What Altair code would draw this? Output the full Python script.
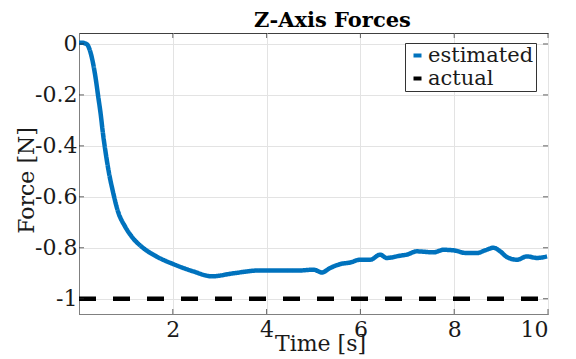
import altair as alt
import pandas as pd

# estimated Z force
t_est = [0.0, 0.05, 0.16, 0.23, 0.30, 0.36, 0.41, 0.46, 0.51, 0.57, 0.64, 0.73,
         0.83, 0.98, 1.15, 1.37, 1.65, 2.01, 2.44, 2.83, 3.3, 3.86, 4.29, 4.71,
         5.0, 5.18, 5.35, 5.57, 5.78, 5.99, 6.21, 6.42, 6.56, 6.85, 6.99, 7.2,
         7.56, 7.77, 7.98, 8.27, 8.48, 8.66, 8.84, 8.98, 9.12, 9.34, 9.55, 9.77,
         9.98]
f_est = [0.005, 0.005, 0.0, -0.024, -0.076, -0.141, -0.207, -0.272, -0.35,
         -0.429, -0.507, -0.585, -0.657, -0.716, -0.762, -0.801, -0.834, -0.864,
         -0.893, -0.912, -0.900, -0.889, -0.889, -0.889, -0.886, -0.897, -0.88,
         -0.864, -0.858, -0.847, -0.847, -0.827, -0.84, -0.831, -0.827, -0.814,
         -0.818, -0.808, -0.81, -0.821, -0.821, -0.81, -0.80, -0.814, -0.836,
         -0.847, -0.834, -0.84, -0.834]
# actual force
t_act = [0.0, 10.0]
f_act = [-1.0, -1.0]

series_names = ["estimated", "actual"]
series_colors = ["#0072BD", "#000000"]
x_ticks = [2, 4, 6, 8, 10]
y_ticks = [0, -0.2, -0.4, -0.6, -0.8, -1]

FONT = "DejaVu Serif"
W, H = 469, 281

df = pd.DataFrame({
    "t": t_est + t_act,
    "F": f_est + f_act,
    "series": ["estimated"] * len(t_est) + ["actual"] * len(t_act),
})

xs = alt.Scale(domain=[0, 10], nice=False, zero=False)
ys = alt.Scale(domain=[-1.06, 0.043], nice=False, zero=False)

lines = alt.Chart(df).mark_line(strokeWidth=4.5, clip=True, interpolate="monotone").encode(
    x=alt.X("t:Q", scale=xs, axis=alt.Axis(
        values=x_ticks, title="Time [s]", grid=True, gridColor="#e3e3e3",
        tickSize=0, labelPadding=5, domainColor="#808080",
        titleX=241, titleY=36, titleAlign="center", titleBaseline="alphabetic")),
    y=alt.Y("F:Q", scale=ys, axis=alt.Axis(
        values=y_ticks, title="Force [N]", grid=True, gridColor="#e3e3e3",
        tickSize=0, labelPadding=2, domainColor="#808080",
        labelExpr="'' + datum.value",
        titleX=-46, titleY=147, titleAngle=270, titleAlign="center",
        titleBaseline="alphabetic")),
    color=alt.Color("series:N", scale=alt.Scale(domain=series_names, range=series_colors),
                    legend=alt.Legend(title=None, orient="none", legendX=326, legendY=10,
                                      symbolType="stroke", symbolStrokeWidth=4,
                                      symbolSize=64, labelOffset=0, rowPadding=1,
                                      padding=2, strokeColor="#333333",
                                      fillColor="white")),
    strokeDash=alt.StrokeDash("series:N",
                              scale=alt.Scale(domain=series_names, range=[[1, 0], [17, 17]]),
                              legend=None),
    detail="series:N",
)

xt = pd.DataFrame({"v": x_ticks})
yt = pd.DataFrame({"v": y_ticks})
tick_col = "#262626"
top_ticks = alt.Chart(xt).mark_tick(size=5, thickness=1, yOffset=2.5, color=tick_col).encode(
    x=alt.X("v:Q", scale=xs), y=alt.value(0))
bot_ticks = alt.Chart(xt).mark_tick(size=5, thickness=1, yOffset=-2.5, color=tick_col).encode(
    x=alt.X("v:Q", scale=xs), y=alt.value(H))
left_ticks = alt.Chart(yt).mark_tick(size=5, thickness=1, xOffset=2.5, color=tick_col).encode(
    y=alt.Y("v:Q", scale=ys), x=alt.value(0))
right_ticks = alt.Chart(yt).mark_tick(size=5, thickness=1, xOffset=-2.5, color=tick_col).encode(
    y=alt.Y("v:Q", scale=ys), x=alt.value(W))

chart = alt.layer(lines, top_ticks, bot_ticks, left_ticks, right_ticks).properties(
    width=W, height=H,
    title=alt.TitleParams("Z-Axis Forces", font=FONT, fontSize=21, fontWeight="bold",
                          anchor="middle", dx=19, dy=24, offset=9, baseline="alphabetic",
                          color="black"),
    autosize=alt.AutoSizeParams(type="none"),
    padding={"left": 71, "top": 25, "right": 20, "bottom": 45},
).configure_view(stroke="#404040", strokeWidth=1).configure_axis(
    labelFont=FONT, labelFontSize=22, labelColor="#1a1a1a",
    titleFont=FONT, titleFontSize=22, titleFontWeight="normal", titleColor="#1a1a1a",
).configure_legend(labelFont=FONT, labelFontSize=21, labelColor="#1a1a1a")

chart.save("out.html", embed_options={"renderer": "svg", "actions": False})
